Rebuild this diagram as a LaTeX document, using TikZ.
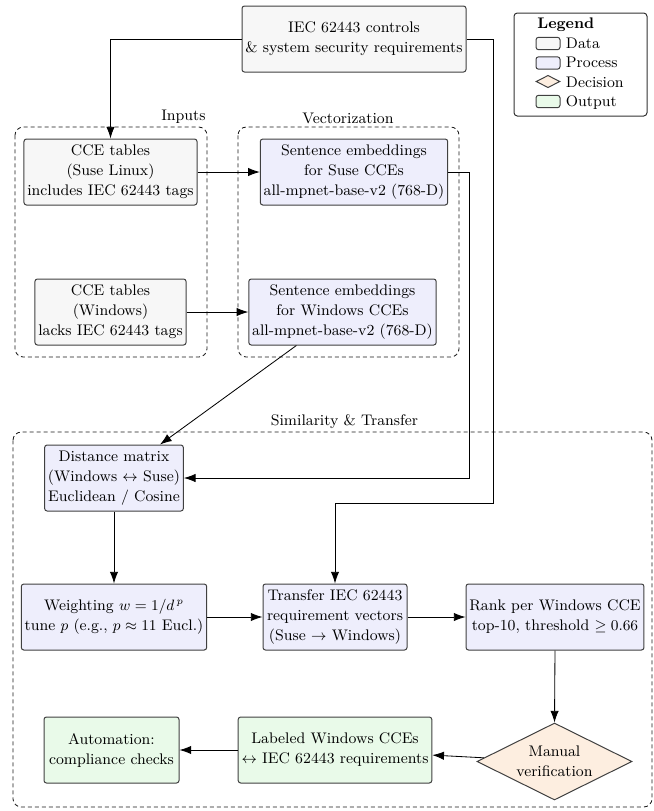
\documentclass[tikz,border=0pt]{standalone}
\usepackage{amsmath}
\usepackage{amssymb}
\usepackage{tikz}
\usetikzlibrary{shapes,arrows.meta}

\definecolor{dataC}{RGB}{247,247,247}
\definecolor{procC}{RGB}{238,238,252}
\definecolor{decC}{RGB}{253,238,224}
\definecolor{outC}{RGB}{233,250,233}

\tikzset{
  box/.style={rectangle,draw=black!75,line width=0.6pt,rounded corners=1.5pt,align=center,inner sep=2pt},
  databox/.style={box,fill=dataC},
  procbox/.style={box,fill=procC},
  outbox/.style={box,fill=outC},
  decbox/.style={diamond,aspect=2,draw=black!75,line width=0.6pt,fill=decC,align=center,inner sep=0pt},
  group/.style={draw=black!90,line width=0.5pt,dash pattern=on 2.4pt off 1.8pt,rounded corners=5pt},
}

\begin{document}
\begin{tikzpicture}[x=0.6pt,y=-0.6pt,>={Latex[length=7pt,width=5pt]},line width=0.5pt,
    font=\fontsize{9.2pt}{12pt}\selectfont]
			\useasboundingbox (0,0) rectangle (654,811);
			
			% groups
			\draw[group] (15,127) rectangle (207,357);
			\draw[group] (238,127) rectangle (459,357);
			\draw[group] (13,432) rectangle (652,807);
			\node[anchor=base east,inner sep=0pt] (inputsLbl) at (206,120) {Inputs};
			\node[anchor=base,inner sep=0pt] (vecLbl) at (348,123) {Vectorization};
			\node[anchor=base,inner sep=0pt] (simLbl) at (344.5,425) {Similarity \& Transfer};
			
			% nodes
			\node[databox,minimum width=134.4pt,minimum height=39.6pt] (ctrl) at (354,39) {IEC 62443 controls\\ \& system security requirements};
			\node[databox,minimum width=100.2pt,minimum height=39.6pt] (suse) at (110.5,172) {CCE tables\\ (Suse Linux)\\ includes IEC 62443 tags};
			\node[databox,minimum width=87pt,minimum height=39.6pt] (win) at (110.5,312) {CCE tables\\ (Windows)\\ lacks IEC 62443 tags};
			\node[procbox,minimum width=111.6pt,minimum height=39.6pt] (embS) at (354,172) {Sentence embeddings\\ for Suse CCEs\\ all-mpnet-base-v2 (768-D)};
			\node[procbox,minimum width=111pt,minimum height=39.6pt] (embW) at (342.5,312) {Sentence embeddings\\ for Windows CCEs\\ all-mpnet-base-v2 (768-D)};
			\node[procbox,minimum width=82.8pt,minimum height=39.6pt] (dist) at (114,478) {Distance matrix\\ (Windows $\leftrightarrow$ Suse)\\ Euclidean / Cosine};
			\node[procbox,minimum width=106.8pt,minimum height=39.6pt] (weight) at (114,617) {Weighting $w=1/d^{\,p}$\\ tune $p$ (e.g., $p\approx 11$ Eucl.)};
			\node[procbox,minimum width=86.4pt,minimum height=39.6pt] (transfer) at (335,617) {Transfer IEC 62443\\ requirement vectors\\ (Suse $\rightarrow$ Windows)};
			\node[procbox,minimum width=104.4pt,minimum height=39.6pt] (rank) at (555,617) {Rank per Windows CCE\\ top-10, threshold $\geq 0.66$};
			\node[decbox,minimum width=93pt,minimum height=46.2pt] (manual) at (554.5,761.5) {Manual\\ verification};
			\node[outbox,minimum width=115.2pt,minimum height=39.6pt] (labeled) at (335,750) {Labeled Windows CCEs\\ $\leftrightarrow$ IEC 62443 requirements};
			\node[outbox,minimum width=81pt,minimum height=39.6pt] (auto) at (111.5,750) {Automation:\\ compliance checks};
			
			% legend
			\node[rectangle,draw=black!80,line width=0.6pt,rounded corners=2pt,minimum width=79.8pt,minimum height=61.8pt] (legend) at (580.5,64.5) {};
			\node[anchor=base west,inner sep=0pt,font=\fontsize{9.2pt}{12pt}\selectfont\bfseries] (legTitle) at (537,28) {Legend};
			\node[databox,minimum width=14.4pt,minimum height=7.4pt,inner sep=0pt] (legData) at (548,43.5) {};
			\node[procbox,minimum width=14.4pt,minimum height=7.4pt,inner sep=0pt] (legProc) at (548,63) {};
			\node[decbox,minimum width=14.4pt,minimum height=7.4pt] (legDec) at (548,81.5) {};
			\node[outbox,minimum width=14.4pt,minimum height=7.4pt,inner sep=0pt] (legOut) at (548,101.5) {};
			\node[anchor=base west] (legDataTxt) at (560,48) {Data};
			\node[anchor=base west] (legProcTxt) at (560,67.5) {Process};
			\node[anchor=base west] (legDecTxt) at (560,87) {Decision};
			\node[anchor=base west] (legOutTxt) at (560,106.5) {Output};
			
			% connectors
			\coordinate (ctrlBend) at (493,503);
			\coordinate (suseBend) at (469,478);
			\path[->,draw] (ctrl.west) -| (suse.north);
			\path[->,draw] (ctrl.east) -| (ctrlBend) -| (transfer.north);
			\path[->,draw] (suse.east) -- (embS.west);
			\path[->,draw] (win.east) -- (embW.west);
			\path[->,draw] (embS.east) -| (suseBend) -- (dist.east);
			\path[->,draw] (embW) -- (dist);
			\path[->,draw] (dist.south) -- (weight.north);
			\path[->,draw] (weight.east) -- (transfer.west);
			\path[->,draw] (transfer.east) -- (rank.west);
			\path[->,draw] (rank.south) -- (manual.north);
			\path[->,draw] (manual) -- (labeled);
			\path[->,draw] (labeled.west) -- (auto.east);
		\end{tikzpicture}
\end{document}
